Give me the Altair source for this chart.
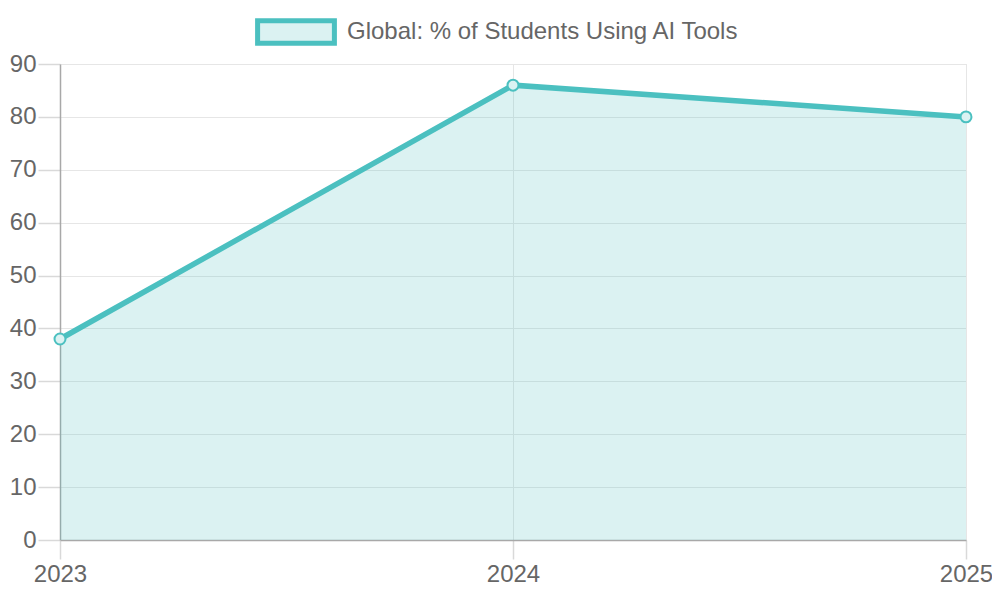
import altair as alt
import pandas as pd

years = [2023, 2024, 2025]
values = [38, 86, 80]
series_name = "Global: % of Students Using AI Tools"

df = pd.DataFrame({"year": [str(y) for y in years], "pct": values, "series": [series_name] * len(years)})

TEAL = "#4BC0C0"
FONT = "Liberation Sans"

x_enc = alt.X(
    "year:O",
    sort=[str(y) for y in years],
    scale=alt.Scale(type="point", padding=0),
    axis=alt.Axis(
        title=None, grid=True, ticks=True, labelAngle=0,
        gridColor="#e6e6e6", domainColor="#a8a8a8", domainWidth=1.5,
        tickColor="#d9d9d9", tickSize=19, tickWidth=1.5, labelPadding=3,
        labelFont=FONT, labelFontSize=24, labelColor="#666666",
        labelFlush=False, labelOverlap=False,
    ),
)
y_enc = alt.Y(
    "pct:Q",
    scale=alt.Scale(domain=[0, 90], nice=False),
    axis=alt.Axis(
        values=list(range(0, 91, 10)), title=None, grid=True, ticks=True,
        gridColor="#e6e6e6", domainColor="#a8a8a8", domainWidth=1.5,
        tickColor="#d9d9d9", tickSize=22, tickWidth=1.5, labelPadding=2,
        labelFont=FONT, labelFontSize=24, labelColor="#666666",
    ),
)

base = alt.Chart(df)

area = base.mark_area(color=TEAL, opacity=0.2).encode(x=x_enc, y=y_enc)
line = base.mark_line(strokeWidth=5.5).encode(
    x=x_enc, y=y_enc,
    color=alt.Color(
        "series:N",
        scale=alt.Scale(domain=[series_name], range=[TEAL]),
        legend=alt.Legend(
            title=None, orient="none", legendX=195, legendY=-73,
            direction="horizontal", padding=0,
            symbolType="M-1,-0.29L1,-0.29L1,0.29L-1,0.29Z",
            symbolSize=5900, symbolStrokeWidth=5, symbolStrokeColor=TEAL,
            symbolFillColor="#dbf2f2",
            labelFont=FONT, labelFontSize=24, labelColor="#666666",
            labelOffset=10, labelLimit=1000,
        ),
    ),
)
points = base.mark_point(
    shape="circle", filled=True, fill="#dbf2f2",
    stroke=TEAL, strokeWidth=2, size=120, opacity=1,
).encode(x=x_enc, y=y_enc)

chart = (
    alt.layer(area, line, points)
    .properties(
        width=906, height=476,
        autosize=alt.AutoSizeParams(type="none"),
        padding={"left": 52, "top": 56, "right": 26, "bottom": 56},
    )
    .configure_view(stroke="#e6e6e6")
    .configure(background="white")
)

chart.save("out.html", embed_options={"renderer": "svg", "actions": False})
